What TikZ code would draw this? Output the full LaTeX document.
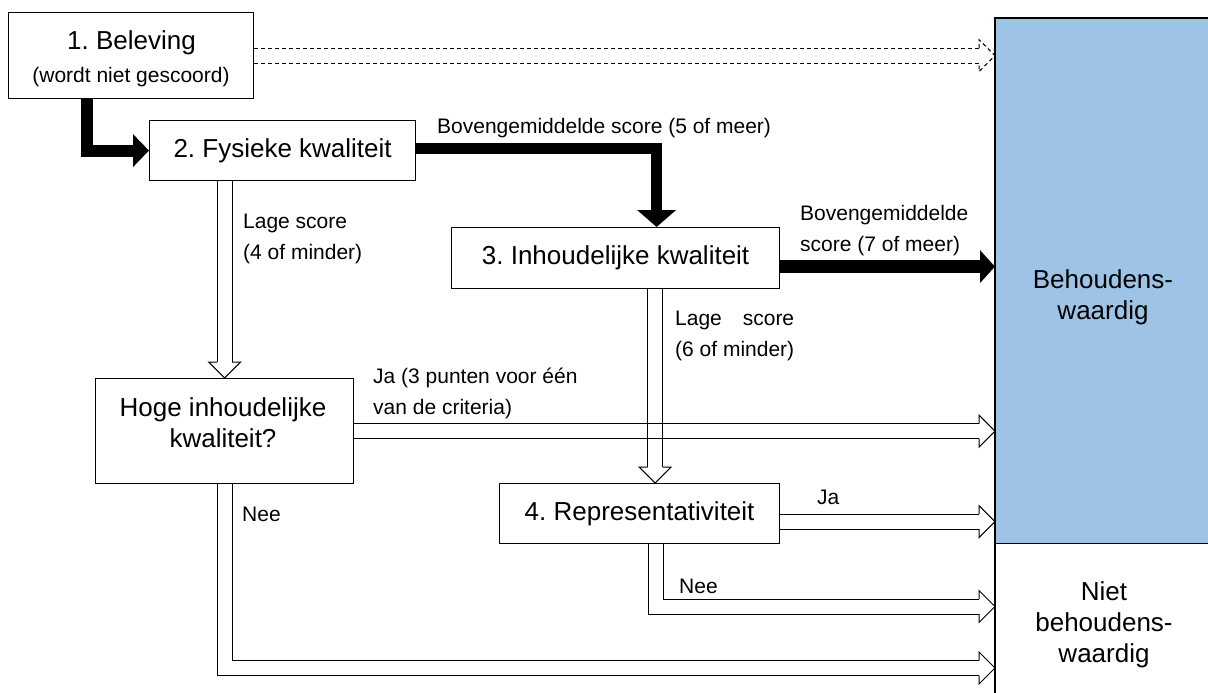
\documentclass[tikz,border=0pt]{standalone}
\usepackage{fontspec}
\setmainfont{Liberation Sans}
\usetikzlibrary{arrows.meta,calc}
\definecolor{keepblue}{HTML}{9DC3E6}
\begin{document}
\frenchspacing
\begin{tikzpicture}[x=1pt,y=-1pt,
  box/.style={draw, line width=1.2pt, inner sep=0pt, anchor=north west, font=\fontsize{26}{31}\selectfont\frenchspacing},
  txt/.style={inner sep=0pt, align=center, font=\fontsize{26}{31}\selectfont\frenchspacing},
  lbl/.style={inner sep=0pt, anchor=base west, font=\fontsize{21}{25}\selectfont\frenchspacing},
  shaft/.style={draw=black, line width=1pt, double=white, double distance=14pt, shorten >=16pt},
  dshaft/.style={shaft, dash pattern=on 4pt off 3pt},
  hhead/.pic={\draw[line width=1pt, line join=miter] (-16,-7.5) -- (-16,-16) -- (0,0) -- (-16,16) -- (-16,7.5);},
  bolda/.style={line width=12pt, -{Triangle[length=16pt,width=32pt]}},
  boldb/.style={line width=11pt, -{Triangle[length=17pt,width=38pt]}},
  boldc/.style={line width=13pt, -{Triangle[length=15pt,width=32pt]}},
]
\useasboundingbox (0,0) rectangle (1208,693);

% outcome region
\node[fill=keepblue, inner sep=0pt, minimum width=213pt, minimum height=525pt, anchor=north west] (behoud) at (995,18) {};
\draw[line width=1.5pt] (behoud.north east) -- (behoud.north west) -- (behoud.south west) -- (behoud.south west |- 0,693);
\draw[line width=1.5pt] (behoud.south west) -- (behoud.south east);
\node[txt] (tb) at (1103,297) {Behoudens-\\waardig};
\node[txt] (tn) at (1104,625) {Niet\\behoudens-\\waardig};

% boxes
\node[box, minimum width=245pt, minimum height=86pt] (b1) at (8,12) {};
\node[txt, anchor=base] (t1a) at (131.5,50) {1. Beleving};
\node[lbl, anchor=base] (t1b) at (131,83) {(wordt niet gescoord)};
\node[box, minimum width=266pt, minimum height=60pt] (b2) at (149,120) {2. Fysieke kwaliteit};
\node[box, minimum width=328pt, minimum height=61pt] (b3) at (451,227) {3. Inhoudelijke kwaliteit};
\node[box, minimum width=258pt, minimum height=105pt] (hoge) at (95,378) {};
\node[txt] (th) at (223,423) {Hoge inhoudelijke\\kwaliteit?};
\node[box, minimum width=280pt, minimum height=60pt] (b4) at (499,483) {4. Representativiteit};

% dashed connector from 1
\draw[dshaft] (b1.east) -- (b1.east -| behoud.west);
\pic[dash pattern=on 4pt off 3pt] at (b1.east -| behoud.west) {hhead};

% bold connectors
\draw[bolda] ([xshift=-44.5pt]b1.south) |- (b2.west);
\coordinate (s2) at ([yshift=2pt]b2.east);
\draw[boldb] (s2) -| ([xshift=41pt]b3.north);
\coordinate (s3) at ([yshift=-8.5pt]b3.east);
\draw[boldc] (s3) -- (s3 -| behoud.west);

% hollow connectors
\coordinate (h2) at (b2.south -| hoge.north);
\draw[shaft] (h2) -- (hoge.north);
\pic[rotate=-90] at (hoge.north) {hhead};

\coordinate (v3) at ([xshift=39.5pt]b3.south);
\draw[shaft] (v3) -- (v3 |- b4.north);
\pic[rotate=-90] at (v3 |- b4.north) {hhead};

\draw[shaft] (hoge.east) -- (hoge.east -| behoud.west);
\pic at (hoge.east -| behoud.west) {hhead};
\draw[line width=1pt] ($(v3 |- hoge.east)+(-7.5,-7)$) -- ++(0,14);
\draw[line width=1pt] ($(v3 |- hoge.east)+(7.5,-7)$) -- ++(0,14);

\draw[shaft] (hoge.south) |- (behoud.west |- 0,668);
\pic at (behoud.west |- 0,668) {hhead};

\coordinate (s4) at ([yshift=-8pt]b4.east);
\draw[shaft] (s4) -- (s4 -| behoud.west);
\pic at (s4 -| behoud.west) {hhead};

\coordinate (d4) at ([xshift=16pt]b4.south);
\draw[shaft] (d4) |- (behoud.west |- 0,606.5);
\pic at (behoud.west |- 0,606.5) {hhead};

% labels
\node[lbl] (l1) at (437,133) {Bovengemiddelde score (5 of meer)};
\node[lbl] (l2a) at (800,220) {Bovengemiddelde};
\node[lbl] (l2b) at (800,251) {score (7 of meer)};
\node[lbl] (l3a) at (243,228) {Lage score};
\node[lbl] (l3b) at (243,259) {(4 of minder)};
\node[lbl] (l4a) at (675,325) {\makebox[119pt][s]{Lage score}};
\node[lbl] (l4b) at (675,356) {(6 of minder)};
\node[lbl] (l5a) at (373,383) {Ja (3 punten voor één};
\node[lbl] (l5b) at (373,414) {van de criteria)};
\node[lbl] (l6) at (242,521) {Nee};
\node[lbl] (l7) at (817,504) {Ja};
\node[lbl] (l8) at (679,593) {Nee};
\end{tikzpicture}
\end{document}
